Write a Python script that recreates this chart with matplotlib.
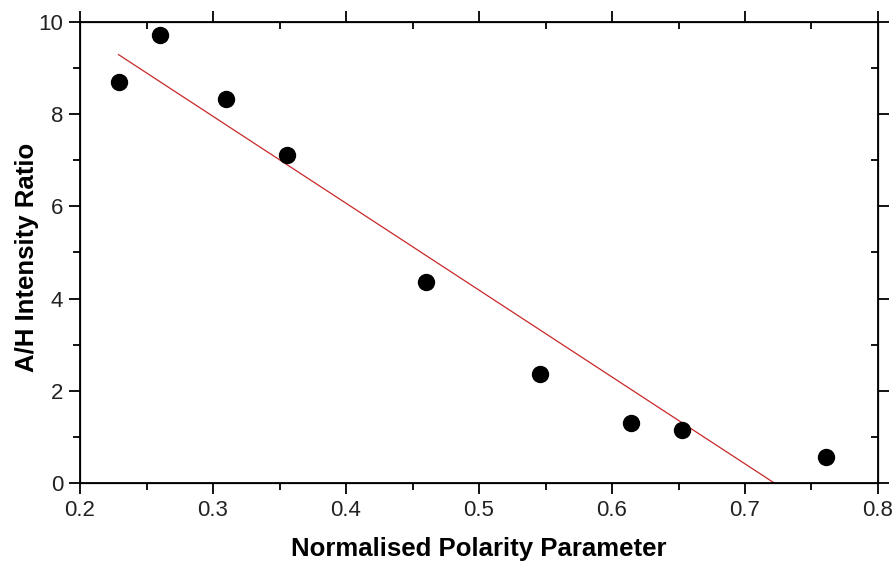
import matplotlib
matplotlib.use('Agg')
import matplotlib.pyplot as plt
from matplotlib.ticker import MultipleLocator

# data
polarity = [0.229, 0.260, 0.310, 0.356, 0.460, 0.546, 0.614, 0.653, 0.761]
ah_ratio = [8.70, 9.72, 8.33, 7.12, 4.36, 2.36, 1.30, 1.15, 0.56]

# linear fit line endpoints (as drawn)
fit_x = [0.229, 0.722]
fit_y = [9.29, 0.0]

plt.rcParams['font.family'] = ['Liberation Sans', 'DejaVu Sans']

fig = plt.figure(figsize=(8.93, 5.62), dpi=100)
ax = fig.add_axes([0.0896, 0.1406, 0.8936, 0.8204])

ax.plot(fit_x, fit_y, color='#c8282a', linewidth=0.9, zorder=2)
ax.plot(polarity, ah_ratio, 'o', color='black', markersize=11.5, zorder=3)

ax.set_xlim(0.2, 0.8)
ax.set_ylim(0, 10)
ax.xaxis.set_minor_locator(MultipleLocator(0.05))
ax.yaxis.set_major_locator(MultipleLocator(2))
ax.yaxis.set_minor_locator(MultipleLocator(1))
ax.set_xticks([0.2, 0.3, 0.4, 0.5, 0.6, 0.7, 0.8])
ax.set_xticklabels(['0.2', '0.3', '0.4', '0.5', '0.6', '0.7', '0.8'])

ax.tick_params(which='major', direction='out', length=8, width=1.3,
               labelsize=16, labelcolor='#222222', pad=4)
ax.tick_params(which='minor', direction='out', length=5, width=1.3)

for sp in ax.spines.values():
    sp.set_linewidth(1.3)

ax.set_xlabel('Normalised Polarity Parameter', fontsize=18.5, fontweight='bold')
ax.set_ylabel('A/H Intensity Ratio', fontsize=18.5, fontweight='bold')
ax.xaxis.set_label_coords(0.5, -0.118)
ax.yaxis.set_label_coords(-0.051, 0.49)

# top and right axes: major ticks outward, minor ticks inward
axt = ax.twiny()
axt.set_xlim(ax.get_xlim())
axt.xaxis.set_major_locator(MultipleLocator(0.1))
axt.xaxis.set_minor_locator(MultipleLocator(0.05))
axt.tick_params(which='major', direction='out', length=8, width=1.3, labeltop=False)
axt.tick_params(which='minor', direction='in', length=5, width=1.3)

axr = ax.twinx()
axr.set_ylim(ax.get_ylim())
axr.yaxis.set_major_locator(MultipleLocator(2))
axr.yaxis.set_minor_locator(MultipleLocator(1))
axr.tick_params(which='major', direction='out', length=8, width=1.3, labelright=False)
axr.tick_params(which='minor', direction='in', length=5, width=1.3)

fig.savefig('out.png', dpi=100)
